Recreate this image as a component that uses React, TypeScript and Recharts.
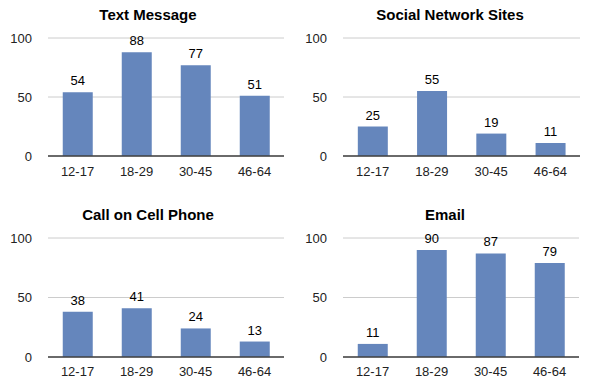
import React from "react";
import { BarChart, Bar, XAxis, YAxis, CartesianGrid, LabelList } from "recharts";

const categories = ["12-17", "18-29", "30-45", "46-64"];
const textMessage = [54, 88, 77, 51];
const socialNetwork = [25, 55, 19, 11];
const callCell = [38, 41, 24, 13];
const email = [11, 90, 87, 79];
const yTicks = [0, 50, 100];

const FONT = "'Liberation Sans', Arial, Helvetica, sans-serif";
const BAR_COLOR = "#6586bc";

const build = (vals: number[]) => categories.map((c, i) => ({ cat: c, v: vals[i] }));

type PanelProps = {
  title: string;
  values: number[];
  left: number;
  top: number;
  titleX: number;
  titleY: number;
  marginTop: number;
  marginRight: number;
  marginBottom: number;
  yWidth: number;
  xTickMargin: number;
};

function Panel(p: PanelProps) {
  return (
    <div style={{ position: "absolute", left: p.left, top: p.top, width: 300, height: 195 }}>
      <div
        style={{
          position: "absolute",
          left: p.titleX - 150,
          top: p.titleY - 9,
          width: 300,
          lineHeight: "18px",
          textAlign: "center",
          fontFamily: FONT,
          fontWeight: "bold",
          fontSize: 15,
          color: "#000",
        }}
      >
        {p.title}
      </div>
      <BarChart
        width={300}
        height={195}
        data={build(p.values)}
        margin={{ top: p.marginTop, right: p.marginRight, bottom: p.marginBottom, left: 0 }}
        barCategoryGap="25%"
      >
        <CartesianGrid vertical={false} stroke="#cccccc" strokeWidth={1} />
        <XAxis
          dataKey="cat"
          axisLine={{ stroke: "#404040", strokeWidth: 1.5 }}
          tickLine={false}
          tickSize={0}
          tickMargin={p.xTickMargin}
          height={30}
          interval={0}
          tick={{ fill: "#222", fontSize: 13, fontFamily: FONT }}
        />
        <YAxis
          domain={[0, 100]}
          ticks={yTicks}
          axisLine={false}
          tickLine={false}
          tickSize={0}
          tickMargin={16}
          width={p.yWidth}
          tick={{ fill: "#222", fontSize: 13, fontFamily: FONT }}
        />
        <Bar dataKey="v" fill={BAR_COLOR} isAnimationActive={false}>
          <LabelList
            dataKey="v"
            position="top"
            offset={7}
            fill="#000"
            fontSize={13}
            fontFamily={FONT}
          />
        </Bar>
      </BarChart>
    </div>
  );
}

export default function App() {
  return (
    <div style={{ position: "absolute", left: 0, top: 0, width: 600, height: 390, background: "#fff" }}>
      <Panel title="Text Message" values={textMessage} left={0} top={0} titleX={148} titleY={15}
        marginTop={38} marginRight={16} marginBottom={9} yWidth={48} xTickMargin={11} />
      <Panel title="Social Network Sites" values={socialNetwork} left={300} top={0} titleX={150} titleY={15}
        marginTop={38} marginRight={20} marginBottom={9} yWidth={43} xTickMargin={11} />
      <Panel title="Call on Cell Phone" values={callCell} left={0} top={195} titleX={148} titleY={20}
        marginTop={43} marginRight={16} marginBottom={3} yWidth={48} xTickMargin={10} />
      <Panel title="Email" values={email} left={300} top={195} titleX={145} titleY={20}
        marginTop={43} marginRight={21} marginBottom={3} yWidth={43} xTickMargin={10} />
    </div>
  );
}
